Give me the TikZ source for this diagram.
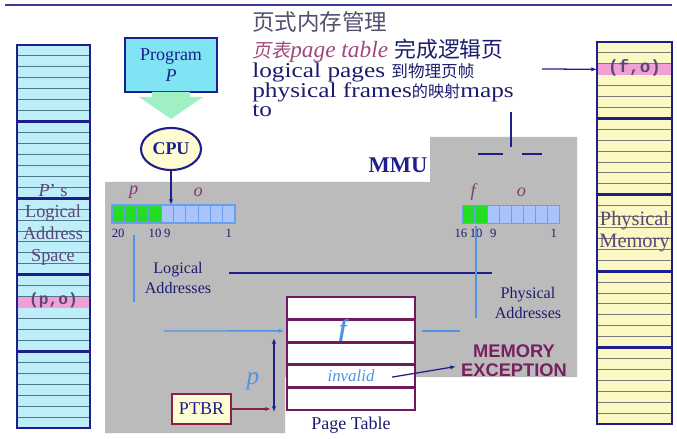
\documentclass[tikz,border=0pt]{standalone}
\usepackage{fontspec}
\usepackage{xcolor}
\usepackage{tikz}
\usetikzlibrary{positioning, shapes.geometric, arrows.meta, calc}
\setmainfont{Liberation Serif}
\setsansfont{Liberation Sans}
\setmonofont{Liberation Mono}
\newfontfamily\wideserif[FakeStretch=1.2]{Liberation Serif}
\newfontfamily\cjk{Noto Sans CJK SC}
\newfontfamily\cjkslant[FakeSlant=0.2]{Noto Sans CJK SC}

\definecolor{mmnavy}{RGB}{30,30,140}
\definecolor{rulenavy}{RGB}{58,58,154}
\definecolor{ttnavy}{RGB}{28,28,110}
\definecolor{titlegray}{RGB}{80,80,110}
\definecolor{ttmagenta}{RGB}{160,72,128}
\definecolor{lcyan}{RGB}{190,238,248}
\definecolor{lyellow}{RGB}{252,248,196}
\definecolor{lstripe}{RGB}{80,120,140}
\definecolor{pstripe}{RGB}{125,125,125}
\definecolor{pinkhl}{RGB}{240,160,210}
\definecolor{progcyan}{RGB}{128,228,244}
\definecolor{arrowgreen}{RGB}{160,240,196}
\definecolor{cpuyellow}{RGB}{255,252,210}
\definecolor{mmugray}{RGB}{187,187,187}
\definecolor{bitgreen}{RGB}{34,221,34}
\definecolor{bitblue}{RGB}{168,196,248}
\definecolor{bitedge}{RGB}{106,158,240}
\definecolor{lineblue}{RGB}{80,146,230}
\definecolor{ptpurple}{RGB}{112,24,96}
\definecolor{ptbrred}{RGB}{138,32,72}
\definecolor{coltxt}{RGB}{90,70,120}
\definecolor{fieldpurple}{RGB}{130,60,110}
\definecolor{excpurple}{RGB}{122,31,94}

\begin{document}
\begin{tikzpicture}[x=0.025cm, y=-0.025cm,
  txt/.style={anchor=base west, inner sep=0pt, text=ttnavy, font=\wideserif\fontsize{15}{18}\selectfont},
  memcol/.style={draw=mmnavy, line width=2.1pt},
  stripe/.style={line width=0.7pt},
  rowhl/.style={rectangle, fill=pinkhl, inner sep=0pt, outer sep=0pt,
    minimum width=1.825cm, minimum height=0.273cm, text height=5pt, text depth=1pt,
    text=coltxt},
  coltext/.style={align=center, inner sep=0pt, text=coltxt},
  prog/.style={rectangle, draw=mmnavy, fill=progcyan, line width=1.4pt,
    minimum width=2.3cm, minimum height=1.35cm, align=center,
    font=\fontsize{12.8}{15}\selectfont, text=mmnavy},
  cpu/.style={ellipse, draw=mmnavy, fill=cpuyellow, line width=1.5pt,
    minimum width=1.5cm, minimum height=1.05cm, inner sep=0pt,
    font=\bfseries\fontsize{12.8}{15}\selectfont, text=mmnavy},
  bitcell/.style={rectangle, draw=bitedge, fill=#1, line width=0.8pt,
    minimum width=0.3075cm, minimum height=0.45cm, inner sep=0pt, outer sep=0pt},
  bitnum/.style={inner sep=0pt, text=ttnavy, font=\fontsize{9}{10}\selectfont},
  field/.style={inner sep=0pt, text=fieldpurple, font=\itshape\fontsize{13}{15}\selectfont},
  lbl/.style={align=center, inner sep=0pt, text=ttnavy, font=\fontsize{11.5}{14.2}\selectfont},
  ptrow/.style={rectangle, draw=ptpurple, fill=white, line width=2pt,
    minimum width=3.2cm, minimum height=0.565cm, inner sep=0pt, outer sep=0pt},
  ptbr/.style={rectangle, draw=ptbrred, fill=cpuyellow, line width=1.4pt,
    minimum width=1.475cm, minimum height=0.75cm,
    font=\fontsize{12.8}{15}\selectfont, text=mmnavy},
  arrow/.style={-{Latex[length=4pt,width=3pt]}, line width=0.9pt, draw=mmnavy},
  bluearrow/.style={-{Latex[length=4pt,width=3pt]}, line width=1pt, draw=lineblue},
  blueline/.style={line width=1.2pt, draw=lineblue},
  navyline/.style={line width=1pt, draw=mmnavy}
]
\useasboundingbox (0,0) rectangle (677,439);

% MMU background
\fill[mmugray] (105,182) -- (430,182) -- (430,137) -- (577,137) -- (577,377)
  -- (285,377) -- (285,433) -- (105,433) -- cycle;

% Top rule
\draw[line width=1.6pt, draw=rulenavy] (5,5) -- (672,5);

% Title text
\node[txt, text=titlegray, font=\cjk\fontsize{16}{18}\selectfont] (title) at (252,31) {页式内存管理};
\node[txt] (line2) at (252,58) {{\color{ttmagenta}\cjkslant\fontsize{13.5}{18}\selectfont 页表}{\color{ttmagenta}\rmfamily\itshape\fontsize{16.6}{18}\selectfont page table} {\cjk\fontsize{15.5}{18}\selectfont 完成逻辑页}};
\node[txt] (line3) at (252,78) {logical pages {\cjk\fontsize{11.8}{14}\selectfont 到物理页帧}};
\node[txt] (line4) at (252,98) {physical frames{\cjk\fontsize{11.5}{14}\selectfont 的映射}maps};
\node[txt] (line5) at (252,117) {to};

% Logical address space (left column)
\fill[lcyan] (17,45) rectangle (90,428);
\foreach \k in {1,...,34}
  \draw[stripe, draw=lstripe] (17,{45+\k*10.943}) -- (90,{45+\k*10.943});
\node[rowhl, font=\bfseries\ttfamily\fontsize{11.5}{12}\selectfont] (po) at (53.5,302.1) {(p,o)};
\foreach \k in {1,...,4}
  \draw[memcol] (17,{45+\k*76.6}) -- (90,{45+\k*76.6});
\draw[memcol] (17,45) rectangle (90,428);
\node[coltext, font=\fontsize{13}{15.4}\selectfont] (lspace) at (53,224.5) {\textit{P}’ s\\Logical\\Address\\Space};

% Physical memory (right column)
\fill[lyellow] (597,42) rectangle (672,424);
\foreach \k in {1,...,34}
  \draw[stripe, draw=pstripe] (597,{42+\k*10.914}) -- (672,{42+\k*10.914});
\node[rowhl, minimum width=1.875cm, font=\bfseries\ttfamily\fontsize{12.5}{14}\selectfont] (fo) at (634.5,69.3) {(f,o)};
\foreach \k in {1,...,4}
  \draw[memcol] (597,{42+\k*76.4}) -- (672,{42+\k*76.4});
\draw[memcol] (597,42) rectangle (672,424);
\node[coltext, font=\fontsize{14.5}{15.6}\selectfont] (pmem) at (634.5,232) {Physical\\Memory};

% Program and CPU
\node[prog] (prog) at (171,65) {Program\\\textit{P}};
\fill[arrowgreen] (152,92) -- (190,92) -- (190,97) -- (203,97) -- (171,119)
  -- (139,97) -- (152,97) -- cycle;
\node[cpu] (cpu) at (171,149) {CPU};
\node[font=\bfseries\fontsize{16}{18}\selectfont, text=mmnavy] (mmu) at (398,165) {MMU};

% Logical address register
\foreach \i/\c in {0/bitgreen,1/bitgreen,2/bitgreen,3/bitgreen,4/bitblue,
                   5/bitblue,6/bitblue,7/bitblue,8/bitblue,9/bitblue}
  \node[bitcell=\c] (lbit\i) at ({118.15+12.3*\i},214) {};
\node[field] (lp) at ($(lbit1.north east)+(-3,-13)$) {p};
\node[field] (lo) at ($(lbit6.north east)+(0,-13)$) {o};
\node[bitnum] at ($(lbit0.south)+(0,10)$) {20};
\node[bitnum] at ($(lbit3.south)+(0,10)$) {10};
\node[bitnum] at ($(lbit4.south)+(0,10)$) {9};
\node[bitnum] at ($(lbit9.south)+(0,10)$) {1};

% Physical address register
\foreach \i/\c in {0/bitgreen,1/bitgreen,2/bitblue,3/bitblue,
                   4/bitblue,5/bitblue,6/bitblue,7/bitblue}
  \node[bitcell=\c] (pbit\i) at ({469.05+12.1*\i},214.5) {};
\node[field] (pf) at ($(pbit0.north east)+(-2,-13)$) {f};
\node[field] (pof) at ($(pbit4.north)+(4,-13)$) {o};
\node[bitnum] at ($(pbit0.south west)+(-2,10)$) {16};
\node[bitnum] at ($(pbit0.south east)+(1,10)$) {10};
\node[bitnum] at ($(pbit2.south)+(0,10)$) {9};
\node[bitnum] at ($(pbit7.south)+(0,10)$) {1};

\draw[arrow] (cpu.south) -- (cpu.south |- lbit4.north);

% Address labels
\node[lbl] (laddr) at (178,278) {Logical\\Addresses};
\node[lbl] (paddr) at (528,303) {Physical\\Addresses};

% Page table
\node[ptrow] (pt1) at (351,308.3) {};
\node[ptrow, below=0pt of pt1] (pt2) {};
\node[ptrow, below=0pt of pt2] (pt3) {};
\node[ptrow, below=0pt of pt3] (pt4) {};
\node[ptrow, below=0pt of pt4] (pt5) {};
\node[inner sep=0pt, text=lineblue, font=\bfseries\itshape\fontsize{17}{18}\selectfont] (ptf) at ($(pt2.center)+(-8,0)$) {f};
\node[inner sep=0pt, text=lineblue, font=\itshape\fontsize{12}{14}\selectfont] (inv) at (pt4.center) {invalid};
\node[inner sep=0pt, text=ttnavy, font=\fontsize{12.8}{15}\selectfont, below=5pt of pt5] (ptlbl) {Page Table};

\node[ptbr] (ptbr) at (201.5,409) {PTBR};
\node[align=center, inner sep=0pt, text=excpurple, font=\sffamily\bfseries\fontsize{13}{13.5}\selectfont] (memexc) at (514,360.5) {MEMORY\\EXCEPTION};
\node[inner sep=0pt, text=lineblue, font=\itshape\fontsize{18}{18}\selectfont] (pofs) at (253,381) {p};

% Free ends of the connectors
\coordinate (ltop) at (134,235);
\coordinate (lbot) at (134,302);
\coordinate (hleft) at (229,273);
\coordinate (hright) at (492,273);
\coordinate (ptop) at (476,226);
\coordinate (pbot) at (476,318);
\coordinate (lin) at (164,331);
\coordinate (pout1) at (422,331);
\coordinate (pout2) at (460,331);
\coordinate (dtop) at ($(pt2.west)+(-13,7)$);
\coordinate (dbot) at ($(pt5.south west)+(-13,2)$);
\coordinate (ptbrend) at (271,409);
\coordinate (invend) at ($(pt4.center)+(41,1)$);
\coordinate (fin) at (542,69);

% Connectors
\draw[blueline] (ltop) -- (lbot);
\draw[navyline] (hleft) -- (hright);
\draw[blueline] (ptop) -- (pbot);
\draw[bluearrow, shorten >=2pt] (lin) -- (pt2.west);
\draw[blueline] (pout1) -- (pout2);
\draw[arrow, {Latex[length=4pt,width=3pt]}-{Latex[length=4pt,width=3pt]}] (dtop) -- (dbot);
\draw[arrow, draw=ptbrred] (ptbr.east) -- (ptbrend);
\draw[arrow] (invend) -- ($(memexc.west)+(-5,6)$);
\draw[arrow] (fin) -- (fo.west);

% Marks above the MMU
\draw[navyline] (511,112) -- (511,147);
\draw[navyline] (478,154) -- (503,154);
\draw[navyline] (522,154) -- (542,154);

\end{tikzpicture}
\end{document}
